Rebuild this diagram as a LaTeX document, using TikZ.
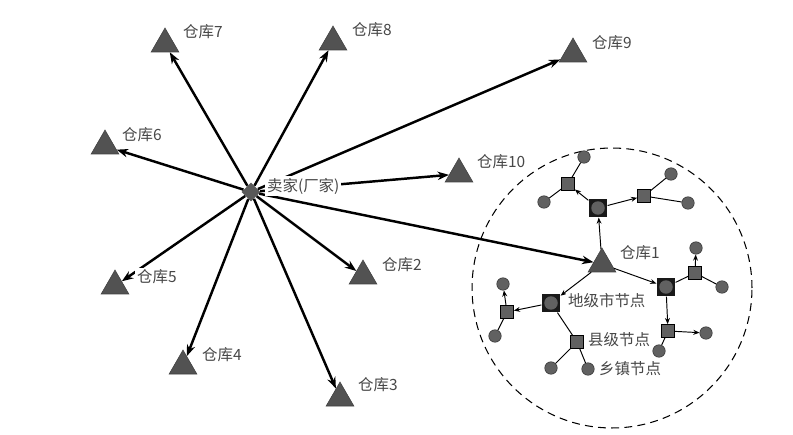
\documentclass[tikz,border=0pt]{standalone}
\usepackage{fontspec}
\newfontfamily\cjk{Noto Sans CJK SC}
\usetikzlibrary{arrows.meta,shapes.geometric}

\begin{document}
\begin{tikzpicture}[x=0.02cm,y=-0.02cm,
  warehouse/.style={regular polygon,regular polygon sides=3,fill=black!68,draw=black!75,line width=0.3pt,minimum size=0.64cm,inner sep=0pt},
  seller/.style={diamond,fill=black!65,minimum size=0.38cm,inner sep=0pt},
  citynode/.style={rectangle,fill=black!90,minimum size=0.37cm,inner sep=0pt,
    path picture={\fill[black!62] (path picture bounding box.center) circle (0.135cm);}},
  countynode/.style={rectangle,fill=black!62,draw=black,line width=0.4pt,minimum size=0.26cm,inner sep=0pt},
  townnode/.style={circle,fill=black!62,draw=black!80,line width=0.3pt,minimum size=0.25cm,inner sep=0pt},
  mainarrow/.style={-{Stealth[length=6.5pt,width=4.8pt]},line width=1.4pt},
  subarrow/.style={-{Stealth[length=3.5pt,width=2.8pt]},line width=0.55pt},
  subline/.style={line width=0.55pt},
  lbl/.style={anchor=west,inner sep=1pt,fill=white,text=black!72,font=\cjk\fontsize{8.8}{10}\selectfont}]
\useasboundingbox (0,0) rectangle (793,435);

% region of warehouse 1
\draw[dashed,dash pattern=on 4.5pt off 3pt,line width=0.6pt] (612,288) circle (2.8cm);

% warehouses and seller
\foreach \n/\x/\y in {1/602/264,2/363/276,3/340/398,4/183/366,5/115/286,
                      6/105/146,7/165/44,8/333/42,9/573/54,10/459/174}
   \node[warehouse] (w\n) at (\x,\y) {};
\node[seller] (s) at (251,192) {};
\foreach \n in {1,2,...,10}
   \draw[mainarrow] (s) -- (w\n);

% city, county and town nodes
\node[citynode] (ca) at (598,208) {};
\node[citynode] (cc) at (666,287) {};
\node[citynode] (cd) at (551,303) {};
\foreach \n/\x/\y in {1/568/184,2/644/196,3/695/273,4/668/331,5/507/312,6/577/342}
   \node[countynode] (k\n) at (\x,\y) {};
\foreach \n/\x/\y in {1/584/157,2/544/202,3/671/174,4/688/203,5/696/248,6/722/287,
                      7/706/333,8/659/351,9/503/284,10/495/336,11/551/368,12/588/369}
   \node[townnode] (t\n) at (\x,\y) {};

\foreach \a/\b in {w1/ca,w1/cc,w1/cd,ca/k1,ca/k2,cc/k4,cd/k5,k3/t5,k4/t7,k5/t9}
   \draw[subarrow] (\a) -- (\b);
\foreach \a/\b in {cc/k3,cd/k6,k1/t1,k1/t2,k2/t3,k2/t4,k3/t6,k4/t8,k5/t10,k6/t11,k6/t12}
   \draw[subline] (\a) -- (\b);

% labels
\foreach \n/\x/\y in {1/618/253,2/380/265,3/356/385,4/200/355,5/135/277,
                      6/120/135,7/181/32,8/350/30,9/590/43,10/475/162}
   \node[lbl] (l\n) at (\x,\y) {仓库\n};
\node[lbl] (ls) at (265,186) {卖家(厂家)};
\node[lbl] (lc) at (566,301) {地级市节点};
\node[lbl] (lk) at (586,340) {县级节点};
\node[lbl] (lt) at (597,369) {乡镇节点};
\end{tikzpicture}
\end{document}
